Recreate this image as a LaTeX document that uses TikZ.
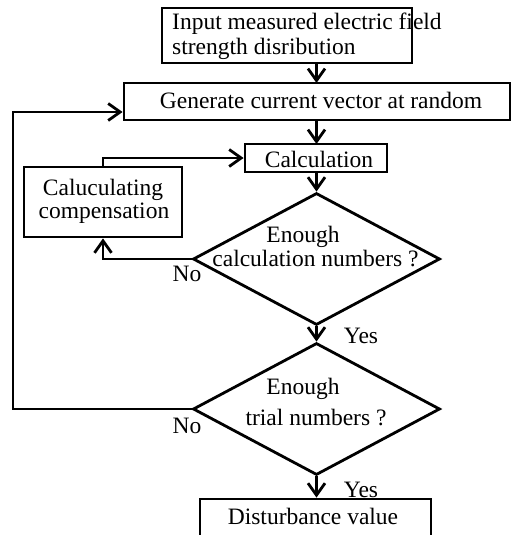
\documentclass[tikz,border=0pt]{standalone}
\usepackage{fontspec}
\setmainfont{Liberation Serif}
\usetikzlibrary{shapes.geometric,arrows.meta,calc}
\begin{document}
\begin{tikzpicture}[x=1pt,y=-1pt,
  boxs/.style={draw,line width=2.8pt,rectangle,inner sep=0pt},
  dia/.style={draw,line width=2.8pt,diamond,inner sep=0pt,minimum width=247pt,minimum height=132pt},
  txt/.style={font=\fontsize{23.5}{25}\selectfont,inner sep=0pt,anchor=base},
  arr/.style={line width=2.8pt,-{Straight Barb[length=12pt,width=17pt]}}]
\useasboundingbox (0,0) rectangle (512,535);
\clip (0,0) rectangle (512,535);
% shapes
\node[boxs,minimum width=250pt,minimum height=55pt] (box1) at (287,35.5) {};
\node[boxs,minimum width=386pt,minimum height=37pt] (box2) at (317,101.5) {};
\node[boxs,minimum width=142pt,minimum height=28pt] (calc) at (316,158) {};
\node[boxs,minimum width=158pt,minimum height=70pt] (comp) at (103,202) {};
\node[dia] (d1) at (316.5,259) {};
\node[dia] (d2) at (316.5,409) {};
\node[boxs,minimum width=231pt,minimum height=61pt] (dist) at (315.5,529.5) {};
\coordinate (loopc) at (13,112);
\coordinate (a1s) at (316.5,63);
\coordinate (a1e) at (316.5,83);
\coordinate (a2s) at (316.5,120);
\coordinate (a2e) at (316.5,144);
\coordinate (a3s) at (316.5,172);
% texts
\node[txt,anchor=base west] (t1a) at (172,30) {Input measured electric field};
\node[txt,anchor=base west] (t1b) at (172,55) {strength disribution};
\node[txt] (t2) at (321,108) {Generate current vector at random};
\node[txt] (t3) at (319,167) {Calculation};
\node[txt] (t4a) at (103,195) {Caluculating};
\node[txt] (t4b) at (104,218) {compensation};
\node[txt] (t5a) at (303,242.7) {Enough};
\node[txt] (t5b) at (315.5,266.7) {calculation numbers ?};
\node[txt] (t6a) at (303,394) {Enough};
\node[txt] (t6b) at (316,425) {trial numbers ?};
\node[txt] (t7) at (313,524) {Disturbance value};
\node[txt] (no1) at (187,281.7) {No};
\node[txt] (no2) at (187,433) {No};
\node[txt] (yes1) at (361,343) {Yes};
\node[txt] (yes2) at (361,497) {Yes};
% connectors
\draw[arr] (a1s) -- (a1e);
\draw[arr] (a2s) -- (a2e);
\draw[arr] (a3s) -- (d1.north);
\draw[arr] (d1.south) -- (d2.north);
\draw[arr] (d2.south) -- (d2.south |- dist.north);
\draw[arr] (d1.west) -| (comp.south);
\draw[arr] (comp.north) |- (calc.west);
\draw[arr] (d2.west) -| (loopc) -- (box2.west |- loopc);
\end{tikzpicture}
\end{document}
